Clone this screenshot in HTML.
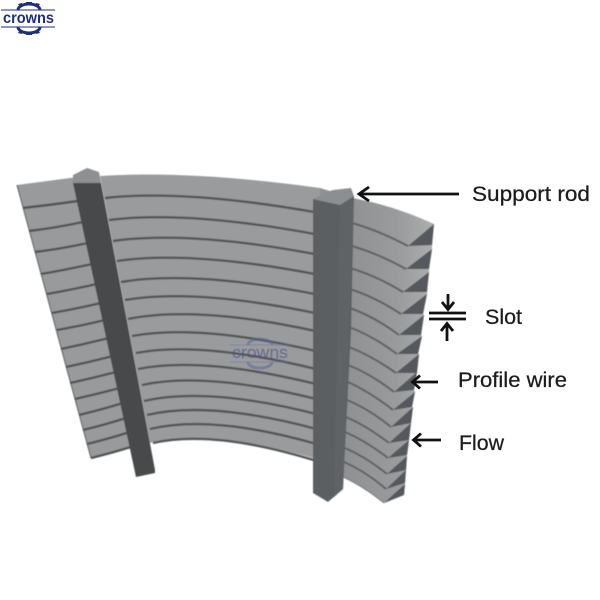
<!DOCTYPE html>
<html>
<head>
<meta charset="utf-8">
<style>
html,body{margin:0;padding:0;background:#fff;width:600px;height:600px;overflow:hidden}
svg{display:block}
text{font-family:"Liberation Sans",sans-serif}
</style>
</head>
<body>
<svg width="600" height="600" viewBox="0 0 600 600" xmlns="http://www.w3.org/2000/svg">
<defs>
<linearGradient id="rf" gradientUnits="userSpaceOnUse" x1="348" y1="0" x2="432" y2="0">
<stop offset="0" stop-color="#909192"/><stop offset="0.6" stop-color="#9a9b9c"/><stop offset="1" stop-color="#adadad"/>
</linearGradient>
<filter id="b" x="-5%" y="-5%" width="110%" height="110%"><feGaussianBlur stdDeviation="0.4"/></filter>
</defs>

<g filter="url(#b)">
<!-- left section -->
<path d="M17,185 L78,177 L135,447 L91,458 Z" fill="#999a9b"/>
<path d="M17,185 L91,458" stroke="#6a6c6e" stroke-width="1.2" fill="none"/>
<g fill="none" stroke="#505355" stroke-width="2.4">
<path d="M23,208 Q50,205 78,201"/>
<path d="M29,231 Q55,228 83,222"/>
<path d="M35,252 Q60,249 88,243"/>
<path d="M41,274 Q65,270 92,264"/>
<path d="M47,294 Q70,290 97,284"/>
<path d="M52,313 Q75,309 101,303"/>
<path d="M57,330 Q80,326 105,320"/>
<path d="M61,349 Q85,344 109,338"/>
<path d="M66,367 Q90,362 113,356"/>
<path d="M70,383 Q93,378 116,372"/>
<path d="M75,399 Q97,394 120,388"/>
<path d="M79,415 Q100,410 123,403"/>
<path d="M83,430 Q104,425 126,418"/>
<path d="M87,444 Q108,439 130,432"/>
<path d="M91,458 Q112,453 134,446"/>
</g>

<!-- middle section -->
<path d="M100,176 Q190,170 320,188 L320,460 Q215,429 150,443 Z" fill="#9a9b9c"/>
<g fill="none" stroke="#525456" stroke-width="2.4">
<path d="M105,198 Q185,189 320,213"/>
<path d="M109,220 Q187,210 320,235"/>
<path d="M113,241 Q189,230 320,255"/>
<path d="M117,261 Q191,250 320,275"/>
<path d="M121,282 Q193,270 320,295"/>
<path d="M125,300 Q196,288 320,314"/>
<path d="M128,319 Q198,305 320,332"/>
<path d="M132,336 Q200,323.500 320,352"/>
<path d="M136,353 Q202,340.500 320,370"/>
<path d="M138,369 Q204,356 320,385"/>
<path d="M142,385 Q206,371 320,400"/>
<path d="M144,401 Q208,386 320,415"/>
<path d="M147,415 Q210,400 320,430"/>
<path d="M150,429 Q213,414 320,445"/>
<path d="M153,443 Q215,429 320,462"/>
</g>
<path d="M320,188 L353,198 Q395,206 434,224 L432,245 L432,249 L429,269 L429,272 L427,292 L427,294 L423,314 L424,315 L421,335 L422,336 L418,354 L419,354 L417,373 L417,372 L414,390 L415,392 L412,407 L413,407 L411,423 L411,423 L409,440 L409,440 L407,455 L407,456 L406,470 L406,470 L405,483 L405,484 L404,495 L384,503 Q363,486 343,477 L320,470 Z" fill="url(#rf)"/>

<!-- right section end faces -->
<g fill="#55585b">
<path d="M434,224 L408,246 L432,245 Z"/>
<path d="M432,249 L406,269 L429,269 Z"/>
<path d="M429,272 L403,292 L427,292 Z"/>
<path d="M427,294 L401,314 L423,314 Z"/>
<path d="M424,315 L399,335 L421,335 Z"/>
<path d="M422,336 L397,354 L418,354 Z"/>
<path d="M419,354 L396,373 L417,373 Z"/>
<path d="M417,372 L394,392 L414,390 Z"/>
<path d="M415,392 L393,410 L412,407 Z"/>
<path d="M413,407 L391,427 L411,423 Z"/>
<path d="M411,423 L389,443 L409,440 Z"/>
<path d="M409,440 L388,458 L407,455 Z"/>
<path d="M407,456 L387,474 L406,470 Z"/>
<path d="M406,470 L386,489 L405,483 Z"/>
<path d="M405,484 L384,503 L404,495 Z"/>
</g>
<g fill="none" stroke="#5e6062" stroke-width="2">
<path d="M352,223 Q380,231 408,246"/>
<path d="M352,246 Q379,254 406,269"/>
<path d="M350,268 Q377,276 403,292"/>
<path d="M350,289 Q375,297 401,314"/>
<path d="M350,308 Q375,317 399,335"/>
<path d="M349,327 Q373,336 397,354"/>
<path d="M349,347 Q372,356 396,373"/>
<path d="M348,365 Q371,374 394,392"/>
<path d="M348,382 Q370,392 393,410"/>
<path d="M347,400 Q369,409 391,427"/>
<path d="M346,417 Q367,426 389,443"/>
<path d="M345,432 Q366,441 388,458"/>
<path d="M345,448 Q366,457 387,474"/>
<path d="M344,462 Q365,471 386,489"/>
</g>
<path d="M343,477 Q363,486 384,503" fill="none" stroke="#7a7c7e" stroke-width="1"/>

<!-- rod 1 -->
<path d="M73,183 L101,183 L155,470 L155,473 L136,477 Z" fill="#47494c"/>
<path d="M73,183 L73,175 L87,168 L99,172 L101,183 Z" fill="#8f9091"/>

<!-- rod 2 -->
<path d="M313,199 L340,205 L354,196 L351,330 L343,489 L328,502 L313,493 Z" fill="#5c5f62"/>
<path d="M340,205 L354,196 L343,489 L334,497 Z" fill="#606366"/>
<path d="M313,199 L327,192 L333,190 L351,188 L354,196 L340,205 Z" fill="#8d8e8f"/>
</g>

<!-- arrows -->
<g fill="none" stroke="#111" stroke-width="2.8">
<path d="M459,194 L360,194"/>
<path d="M369,187 L359,194 L369,201"/>
<path d="M429,313 L466,313"/>
<path d="M429,319 L466,319"/>
<path d="M448,294 L448,309"/>
<path d="M442,302 L448,309.500 L454,302"/>
<path d="M447,341 L447,324"/>
<path d="M441,331 L447,323.500 L453,331"/>
<path d="M438,382 L414,382"/>
<path d="M420,375.500 L412.500,382 L420,388.500"/>
<path d="M441,440 L415,440"/>
<path d="M421,433.500 L413.500,440 L421,446.500"/>
</g>

<!-- labels -->
<g fill="#1c1c1c" font-size="21" stroke="#1c1c1c" stroke-width="0.25">
<text x="472" y="201" textLength="118" lengthAdjust="spacingAndGlyphs">Support rod</text>
<text x="485" y="324" textLength="37" lengthAdjust="spacingAndGlyphs">Slot</text>
<text x="458" y="387" textLength="109" lengthAdjust="spacingAndGlyphs">Profile wire</text>
<text x="459" y="450" textLength="45" lengthAdjust="spacingAndGlyphs">Flow</text>
</g>

<!-- logo -->
<g>
<path d="M1,10 H55 M1,27 H55" stroke="#1f2f78" stroke-width="1" fill="none"/>
<path d="M18,10 A11,6 0 0 1 40,10" fill="none" stroke="#1f2f78" stroke-width="3"/>
<path d="M18,27 A11,6 0 0 0 40,27" fill="none" stroke="#1f2f78" stroke-width="3"/>
<path d="M26,2 H32 V5 H26 Z M18,4 L22,3 L23,6 L20,7 Z M40,4 L36,3 L35,6 L38,7 Z M26,35 H32 V32 H26 Z M18,33 L22,34 L23,31 L20,30 Z M40,33 L36,34 L35,31 L38,30 Z" fill="#1f2f78"/>
<text x="3" y="23" font-size="15.500" font-weight="bold" fill="#1f2f78" textLength="51" lengthAdjust="spacingAndGlyphs">crowns</text>
</g>

<!-- watermark -->
<g opacity="0.5">
<path d="M230,345 H290 M230,362 H290" stroke="#6b76a8" stroke-width="1" fill="none"/>
<path d="M248,345 A12,6 0 0 1 272,345" fill="none" stroke="#5a659c" stroke-width="3"/>
<path d="M248,362 A12,6 0 0 0 272,362" fill="none" stroke="#5a659c" stroke-width="3"/>
<text x="232" y="358" font-size="17" fill="#4a558f" stroke="#4a558f" stroke-width="0.4" textLength="56" lengthAdjust="spacingAndGlyphs">crowns</text>
</g>
</svg>
</body>
</html>
